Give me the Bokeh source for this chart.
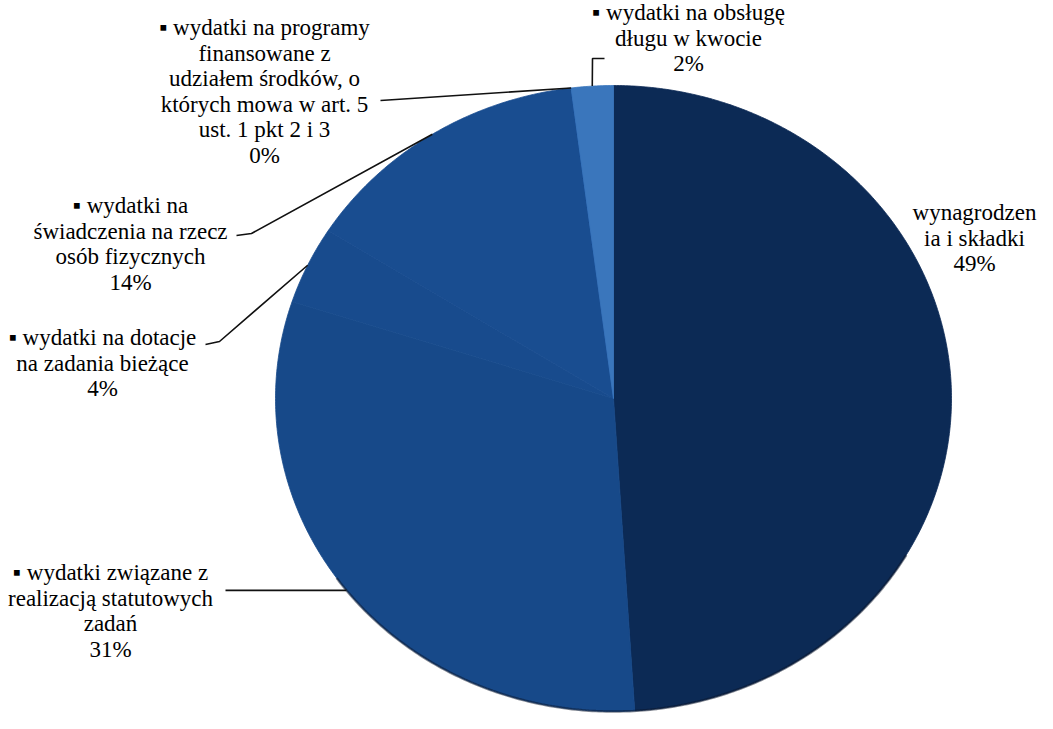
import numpy as np
from bokeh.plotting import figure
from bokeh.models import Range1d
from bokeh.core.properties import value
from bokeh.embed import file_html
from bokeh.resources import INLINE

# ---- data ----
categories = [
    "wynagrodzenia i składki",
    "wydatki związane z realizacją statutowych zadań",
    "wydatki na dotacje na zadania bieżące",
    "wydatki na świadczenia na rzecz osób fizycznych",
    "wydatki na programy finansowane z udziałem środków, o których mowa w art. 5 ust. 1 pkt 2 i 3",
    "wydatki na obsługę długu w kwocie",
]
percents = [49, 31, 4, 14, 0, 2]
label_lines = [
    ["wynagrodzen", "ia i składki"],
    ["▪ wydatki związane z", "realizacją statutowych", "zadań"],
    ["▪ wydatki na dotacje", "na zadania bieżące"],
    ["▪ wydatki na", "świadczenia na rzecz", "osób fizycznych"],
    ["▪ wydatki na programy", "finansowane z", "udziałem środków, o", "których mowa w art. 5", "ust. 1 pkt 2 i 3"],
    ["▪ wydatki na obsługę", "długu w kwocie"],
]

# ---- styles / layout ----
colors = ["#0c2a55", "#174989", "#184b8d", "#194d90", "#1e56a0", "#3a76bc"]
CX, CY, RX, RY = 621, 406, 338, 313
label_x = [982, 118, 110, 138, 272, 696]
label_first = [220, 580, 345, 213, 35, 20]   # centre of first text line
LINE_H = 25.5
# label-side leader points
leader_pts = [
    None,
    [(233, None)],
    [(213, 352), (227, 349)],
    [(244, 243), (259, 241)],
    [(388, 108)],
    [(612, 66), (600, 66)],
]

W, H = 1037, 713
p = figure(width=W, height=H, output_backend="svg", toolbar_location=None,
           x_range=Range1d(8, 8 + W), y_range=Range1d(8 + H, 8),
           min_border=0)
p.axis.visible = False
p.grid.visible = False
p.outline_line_color = None

vals = np.array(percents, dtype=float)
frac = vals / vals.sum()
ends = np.cumsum(frac) * 2 * np.pi
starts = ends - frac * 2 * np.pi

def ell(t):
    return CX + RX * np.sin(t), CY - RY * np.cos(t)

xs, ys = [], []
for s, e in zip(starts, ends):
    n = max(2, int(np.degrees(e - s)) * 2 + 2)
    t = np.linspace(s, e, n)
    ex, ey = ell(t)
    xs.append([float(v) for v in [CX] + list(ex)])
    ys.append([float(v) for v in [CY] + list(ey)])

p.patches(xs=xs, ys=ys, fill_color=colors, line_color=colors, line_width=0.8)

# subtle dark rim at the bottom
tb = np.linspace(np.radians(120), np.radians(235), 200)
bx, by = ell(tb)
p.line([float(v) for v in bx], [float(v) for v in by],
       line_color="#0a1428", line_width=2.5, line_alpha=0.5)

# leader lines
mids = (starts + ends) / 2
lx, ly = [], []
for i, pts in enumerate(leader_pts):
    if pts is None:
        continue
    ax, ay = ell(mids[i])
    ax, ay = float(ax), float(ay)
    xx = [float(pt[0]) for pt in pts] + [ax]
    yy = [float(pt[1] if pt[1] is not None else ay) for pt in pts] + [ay]
    lx.append(xx)
    ly.append(yy)
p.multi_line(xs=lx, ys=ly, line_color="#111111", line_width=1.6)

# labels: one text call per line
for i, (lines, pc) in enumerate(zip(label_lines, percents)):
    for k, s in enumerate(lines + [f"{pc}%"]):
        p.text(x=[float(label_x[i])], y=[float(label_first[i] + k * LINE_H)], text=[s],
               text_font=value("Liberation Serif"), text_font_size="23px",
               text_align="center", text_baseline="middle")

open("out.html", "w").write(file_html(p, INLINE))
